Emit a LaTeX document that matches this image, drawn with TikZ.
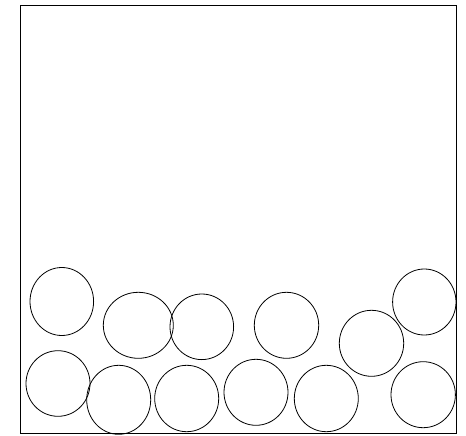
\documentclass[tikz,border=0pt]{standalone}
\usepackage{tikz}

\begin{document}
\begin{tikzpicture}[
    x=1pt,y=-1pt,
    wall/.style={draw,line width=0.9pt},
    ball/.style={draw,line width=0.8pt}
]
\useasboundingbox (0,0) rectangle (466,436);
% container
\draw[wall] (20,5) rectangle (456,433);
% particles: centre x, centre y, radius x, radius y
\foreach \cx/\cy/\rx/\ry in {
    61.8/301.5/31.8/34,
    138.3/325.3/35/33,
    201.8/326.8/31.8/32.8,
    58/383.5/32/32.8,
    118.7/399.8/32/34.5,
    186.7/398.5/32/33.2,
    256/392.3/32/33,
    286.5/325.3/32.2/33,
    326.3/398.5/32/33.2,
    371.5/343.3/32.2/33,
    424.3/302/31.7/33,
    423.2/394.7/32.2/33}
  \draw[ball] (\cx,\cy) ellipse [x radius=\rx, y radius=\ry];
\end{tikzpicture}
\end{document}
